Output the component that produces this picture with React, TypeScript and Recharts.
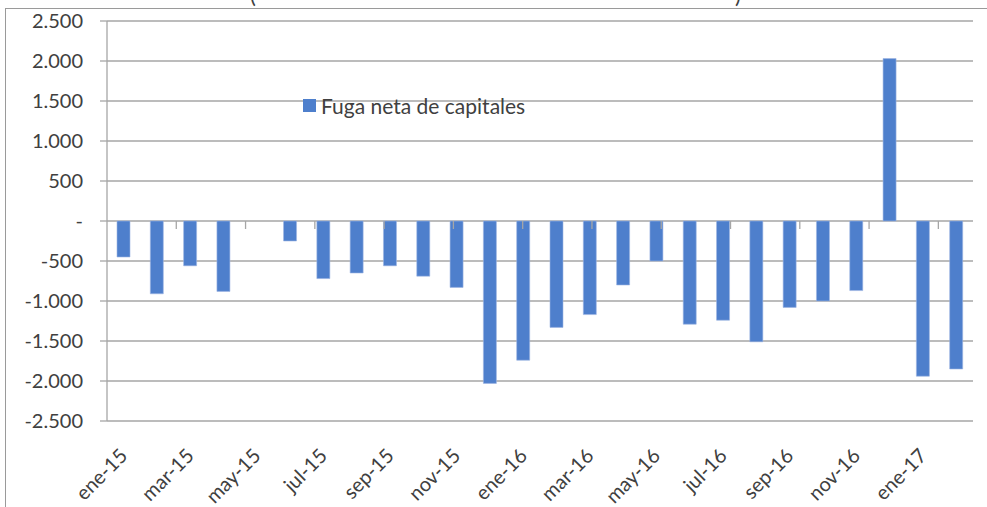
import { BarChart, Bar, XAxis, YAxis, CartesianGrid, ReferenceLine, Legend } from 'recharts'

const months = [
  'ene-15', 'feb-15', 'mar-15', 'abr-15', 'may-15', 'jun-15', 'jul-15', 'ago-15', 'sep-15', 'oct-15', 'nov-15', 'dic-15',
  'ene-16', 'feb-16', 'mar-16', 'abr-16', 'may-16', 'jun-16', 'jul-16', 'ago-16', 'sep-16', 'oct-16', 'nov-16', 'dic-16',
  'ene-17', 'feb-17',
]

// millones de USD
const fuga = [
  -450, -910, -560, -880, null, -250, -720, -650, -560, -690, -830, -2030,
  -1740, -1330, -1170, -800, -500, -1290, -1240, -1510, -1080, -1000, -870, 2030,
  -1940, -1850,
]

const yTicks = [-2500, -2000, -1500, -1000, -500, 0, 500, 1000, 1500, 2000, 2500]

const data = months.map((m, i) => ({ mes: m, fuga: fuga[i] }))

// tick marks on the zero line, every two months
const tickBounds = months.map((_, i) => i + 1).filter((n) => n % 2 === 0)

const FONT = 'Lato, "Open Sans", sans-serif'
const TEXT = '#404040'
const GRID = '#a6a6a6'
const BAR = '#4e7fcc'

const fmt = (v: number) => (v === 0 ? '-' : v.toLocaleString('de-DE'))

const MonthTick = ({ x, y, payload }: any) => (
  <g transform={`translate(${x + 5},${y + 36})`}>
    <text x={0} y={0} textAnchor="end" transform="rotate(-45)" fontFamily={FONT} fontSize={20} fill={TEXT}>
      {payload.value}
    </text>
  </g>
)

const LegendBox = () => (
  <div style={{ display: 'flex', alignItems: 'center', fontFamily: FONT, fontSize: 21, color: TEXT }}>
    <span style={{ width: 13, height: 13, background: BAR, marginRight: 5, display: 'inline-block' }} />
    Fuga neta de capitales
  </div>
)

export default function App() {
  return (
    <div style={{ position: 'absolute', left: 0, top: 0, width: 987, height: 507, overflow: 'hidden', background: '#fff' }}>
      {/* chart frame */}
      <div style={{ position: 'absolute', left: 5, top: 8, width: 990, height: 600, borderTop: '1px solid #9a9a9a', borderLeft: '1px solid #9a9a9a' }} />
      {/* title cut off at the top */}
      <div style={{ position: 'absolute', left: 250, top: -19, fontFamily: FONT, fontSize: 22, color: TEXT }}>(</div>
      <div style={{ position: 'absolute', left: 735, top: -19, fontFamily: FONT, fontSize: 22, color: TEXT }}>)</div>

      <BarChart width={987} height={507} data={data} margin={{ top: 21, right: 14, bottom: 0, left: 7 }}>
        <CartesianGrid vertical={false} stroke={GRID} strokeWidth={1.3} />
        <XAxis
          dataKey="mes"
          interval={1}
          height={86}
          axisLine={false}
          tickLine={false}
          tickSize={0}
          tickMargin={0}
          tick={<MonthTick />}
        />
        <XAxis xAxisId="num" type="number" domain={[0, months.length]} hide />
        <YAxis
          domain={[-2500, 2500]}
          ticks={yTicks}
          width={100}
          tickFormatter={fmt}
          tickSize={7}
          tickMargin={17}
          axisLine={{ stroke: GRID, strokeWidth: 1.3 }}
          tickLine={{ stroke: GRID, strokeWidth: 1.3 }}
          tick={{ fontFamily: FONT, fontSize: 20, fill: TEXT }}
        />
        {tickBounds.map((b) => (
          <ReferenceLine
            key={b}
            xAxisId="num"
            segment={[{ x: b, y: 0 }, { x: b, y: -100 }]}
            stroke={GRID}
            strokeWidth={1.3}
          />
        ))}
        <Legend
          layout="horizontal"
          verticalAlign="middle"
          content={<LegendBox />}
          wrapperStyle={{ position: 'absolute', left: 303, top: 93, width: 'auto' }}
        />
        <Bar dataKey="fuga" fill={BAR} stroke="#9db6e3" strokeWidth={0.6} barSize={13} isAnimationActive={false} />
      </BarChart>
    </div>
  )
}
